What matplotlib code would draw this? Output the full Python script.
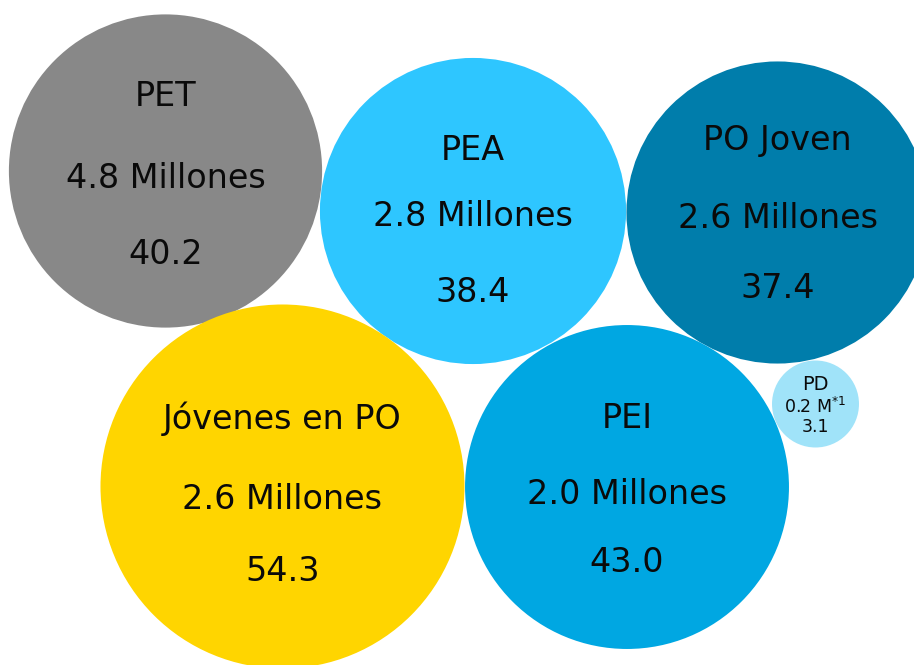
import numpy as np
import matplotlib
matplotlib.use("Agg")
import matplotlib.pyplot as plt
from matplotlib.patches import Circle

# ---- data ----
labels = ["PET", "PEA", "PO Joven", "Jóvenes en PO", "PEI", "PD"]
millions = ["4.8 Millones", "2.8 Millones", "2.6 Millones", "2.6 Millones", "2.0 Millones", "0.2 M"]
values = [40.2, 38.4, 37.4, 54.3, 43.0, 3.1]
colors = ["#888888", "#2EC6FF", "#007DAB", "#FFD500", "#00A7E2", "#A0E3F9"]

# ---- layout (pixel coordinates of bubble centres) ----
cx = [165.5, 473, 777.5, 282.5, 627, 815.5]
cy = [171, 211, 212.5, 486.5, 487, 404]
scale = 24.7  # px per sqrt(value)
# text line offsets (title, millions, value) relative to centre
offs = [(-75, 7, 83), (-61, 6, 82), (-72, 6, 76), (-68, 13, 85), (-69, 7, 75)]

W, H = 914, 665
fig = plt.figure(figsize=(W / 100, H / 100), dpi=100)
ax = fig.add_axes([0, 0, 1, 1])
ax.set_xlim(0, W)
ax.set_ylim(H, 0)
ax.set_aspect("equal")
ax.axis("off")

font = "DejaVu Sans"
tc = "#0a0a0a"
for i, (lab, mil, val, col) in enumerate(zip(labels, millions, values, colors)):
    r = scale * np.sqrt(val)
    ax.add_patch(Circle((cx[i], cy[i]), r, facecolor=col, edgecolor="none"))
    if lab == "PD":
        ax.text(cx[i], 384, lab, ha="center", va="center", fontsize=14, family=font, color=tc)
        ax.text(cx[i], 407, mil + "$^{*1}$", ha="center", va="center", fontsize=12.5, family=font, color=tc)
        ax.text(cx[i], 427, f"{val:.1f}", ha="center", va="center", fontsize=12.5, family=font, color=tc)
    else:
        o = offs[i]
        ax.text(cx[i], cy[i] + o[0], lab, ha="center", va="center", fontsize=24, family=font, color=tc)
        ax.text(cx[i], cy[i] + o[1], mil, ha="center", va="center", fontsize=24, family=font, color=tc)
        ax.text(cx[i], cy[i] + o[2], f"{val:.1f}", ha="center", va="center", fontsize=24, family=font, color=tc)

fig.savefig("out.png", dpi=100)
